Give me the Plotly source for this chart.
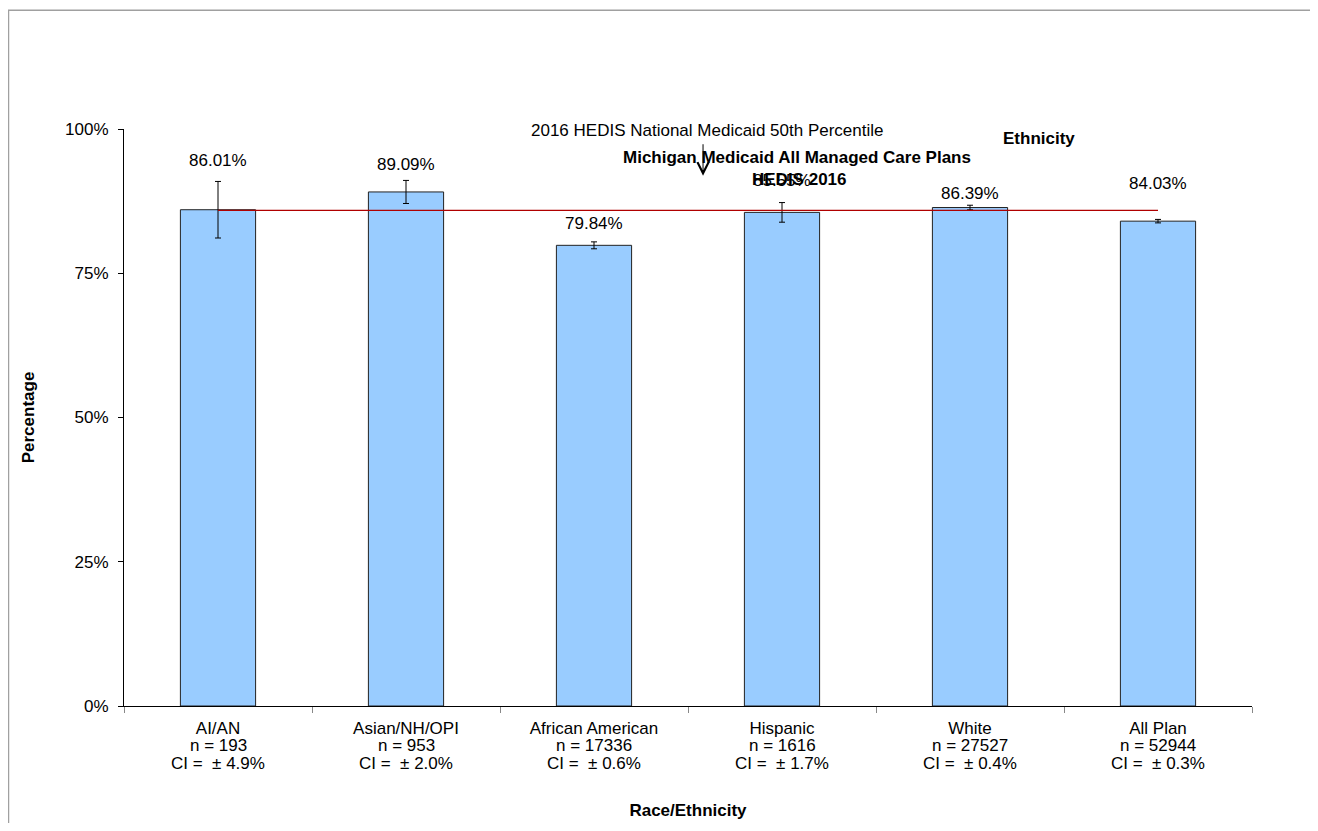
import plotly.graph_objects as go

categories = ["AI/AN", "Asian/NH/OPI", "African American", "Hispanic", "White", "All Plan"]
n_values = [193, 953, 17336, 1616, 27527, 52944]
ci_values = [4.9, 2.0, 0.6, 1.7, 0.4, 0.3]
rates = [86.01, 89.09, 79.84, 85.55, 86.39, 84.03]
rate_labels = ["86.01%", "89.09%", "79.84%", "85.55%", "86.39%", "84.03%"]
national_50th = 85.9
y_ticks = [0, 25, 50, 75, 100]
y_tick_labels = ["0%", "25%", "50%", "75%", "100%"]

label_shift = [21, 16, 18, 22, 12, 36]

FONT = "Liberation Sans, Arial, sans-serif"
FS = 17

fig = go.Figure()
fig.add_trace(go.Bar(
    x=categories, y=rates, width=0.4,
    marker=dict(color="#99CCFF", line=dict(color="#222222", width=1)),
    error_y=dict(type="data", array=ci_values, visible=True, color="#000000", thickness=1, width=3),
    showlegend=False, hoverinfo="skip",
))
fig.add_trace(go.Scatter(
    x=categories, y=[national_50th] * len(categories), mode="lines",
    line=dict(color="#B00000", width=1.3), showlegend=False, hoverinfo="skip",
))

for i, (c, r, ci, lab) in enumerate(zip(categories, rates, ci_values, rate_labels)):
    fig.add_annotation(x=c, y=r + ci, text=lab, showarrow=False, yshift=label_shift[i],
                       font=dict(family=FONT, size=FS, color="#000000"))

# second and third category label lines
for c, n, ci in zip(categories, n_values, ci_values):
    fig.add_annotation(x=c, xref="x", yref="paper", y=0, yanchor="middle", yshift=-39,
                       text=f"n = {n}", showarrow=False, font=dict(family=FONT, size=FS, color="#000"))
    fig.add_annotation(x=c, xref="x", yref="paper", y=0, yanchor="middle", yshift=-57,
                       text=f"CI =  \u00b1 {ci:.1f}%", showarrow=False, font=dict(family=FONT, size=FS, color="#000"))

# Header texts (overlapping, as in reference)
fig.add_annotation(xref="paper", yref="paper", x=0.811, y=0.984, text="<b>Ethnicity</b>",
                   showarrow=False, font=dict(family=FONT, size=FS, color="#000"), xanchor="center", yanchor="middle")
fig.add_annotation(xref="paper", yref="paper", x=0.517, y=0.998, text="2016 HEDIS National Medicaid 50th Percentile",
                   showarrow=False, font=dict(family=FONT, size=FS, color="#000"), xanchor="center", yanchor="middle")
fig.add_annotation(xref="paper", yref="paper", x=0.597, y=0.950, text="<b>Michigan Medicaid All Managed Care Plans</b>",
                   showarrow=False, font=dict(family=FONT, size=FS, color="#000"), xanchor="center", yanchor="middle")
fig.add_annotation(xref="paper", yref="paper", x=0.599, y=0.912, text="<b>HEDIS 2016</b>",
                   showarrow=False, font=dict(family=FONT, size=FS, color="#000"), xanchor="center", yanchor="middle")

# Arrow from label to the reference line
fig.add_annotation(x=2.58, y=91.9, ax=0, ay=-33, text="", showarrow=True,
                   arrowhead=5, arrowsize=2.2, arrowwidth=1, arrowcolor="#000")

# Outer frame
fig.add_shape(type="rect", xref="paper", yref="paper", x0=-0.1024, x1=1.1, y0=-0.3, y1=1.206,
              line=dict(color="#A0A0A0", width=1.5), fillcolor="rgba(0,0,0,0)", layer="below")

fig.update_layout(
    width=1302, height=815,
    margin=dict(l=116, r=58, t=121, b=117),
    plot_bgcolor="white", paper_bgcolor="white",
    font=dict(family=FONT, size=FS, color="#000"),
    xaxis=dict(
        tickmode="array", tickvals=categories, ticktext=categories,
        tickson="boundaries", ticks="outside", ticklen=6, tickcolor="#888", ticklabelstandoff=7,
        showline=True, linecolor="#000", linewidth=1, showgrid=False, automargin=False,
        tickfont=dict(family=FONT, size=FS),
        title=dict(text="<b>Race/Ethnicity</b>", font=dict(family=FONT, size=FS), standoff=66),
    ),
    yaxis=dict(
        range=[0, 100], tickvals=y_ticks, ticktext=y_tick_labels,
        ticks="outside", ticklen=5, tickcolor="#000", ticklabelstandoff=6,
        showline=True, linecolor="#000", linewidth=1, showgrid=False, zeroline=False, automargin=False,
        tickfont=dict(family=FONT, size=FS),
        title=dict(text="<b>Percentage</b>", font=dict(family=FONT, size=FS), standoff=26),
    ),
)

fig.write_html("out.html")
